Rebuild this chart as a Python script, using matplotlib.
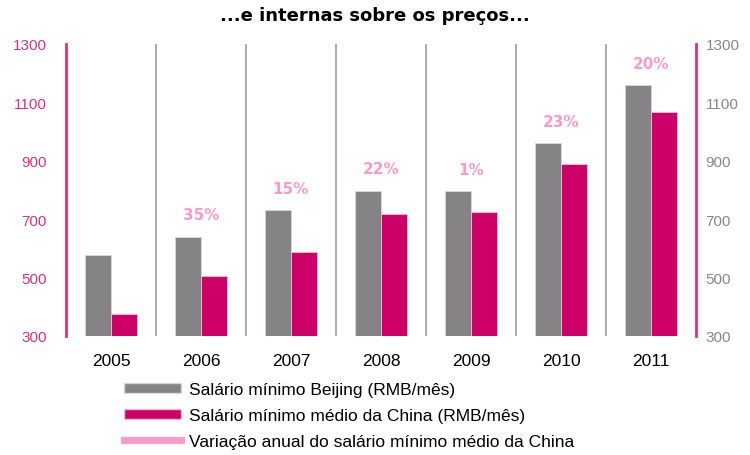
import numpy as np
import matplotlib.pyplot as plt
from matplotlib.patches import Patch
from matplotlib.lines import Line2D

anos = ["2005", "2006", "2007", "2008", "2009", "2010", "2011"]
beijing = [578, 640, 730, 797, 795, 960, 1158]
china = [375, 505, 587, 718, 724, 890, 1068]
variacao = ["", "35%", "15%", "22%", "1%", "23%", "20%"]

cinza = "#858385"
magenta = "#cc0066"
rosa_eixo = "#e0307f"
rosa_claro = "#ff99cc"

fig = plt.figure(figsize=(7.5, 4.56), dpi=100)
ax = fig.add_axes([66 / 750, 1 - 337 / 456, 630 / 750, 292 / 456])

x = np.arange(len(anos))
w = 0.29
ax.bar(x - w / 2, np.array(beijing) - 300, w, bottom=300, color=cinza,
       edgecolor="#d8d8d8", linewidth=0.6)
ax.bar(x + w / 2, np.array(china) - 300, w, bottom=300, color=magenta,
       edgecolor="#f0c0d8", linewidth=0.6)

for i, txt in enumerate(variacao):
    if txt:
        ax.annotate(txt, (x[i], beijing[i]), xytext=(0, 16), textcoords="offset points",
                    ha="center", va="center", color=rosa_claro, fontsize=11,
                    fontweight="bold", family="DejaVu Sans")

# linhas separadoras entre os anos
for s in x[:-1] + 0.5:
    ax.axvline(s, color="#aaaaaa", linewidth=1.4)

ax.set_xlim(-0.5, len(anos) - 0.5)
ax.set_ylim(300, 1300)
ax.set_yticks(range(300, 1301, 200))
ax.set_xticks(x)
ax.set_xticklabels(anos, fontsize=12.5, family="Liberation Sans")
ax.tick_params(axis="x", length=0, pad=12)
ax.tick_params(axis="y", length=0, labelcolor=rosa_eixo, labelsize=11, pad=14)
for lab in ax.get_yticklabels():
    lab.set_family("Liberation Sans")

ax2 = ax.twinx()
ax2.set_ylim(300, 1300)
ax2.set_yticks(range(300, 1301, 200))
ax2.tick_params(axis="y", length=0, labelcolor="#888888", labelsize=11, pad=7)
for lab in ax2.get_yticklabels():
    lab.set_family("Liberation Sans")

for a in (ax, ax2):
    for sp in ["top", "bottom"]:
        a.spines[sp].set_visible(False)
    a.spines["left"].set_color(rosa_eixo)
    a.spines["right"].set_color(rosa_eixo)
    a.spines["left"].set_linewidth(2)
    a.spines["right"].set_linewidth(2)
ax2.spines["left"].set_visible(False)
ax.spines["right"].set_visible(False)

fig.text(0.5, 1 - 16 / 456, "...e internas sobre os preços...", ha="center", va="center",
         fontsize=13, fontweight="bold", family="DejaVu Sans")

handles = [
    Patch(facecolor=cinza, edgecolor="#d8d8d8"),
    Patch(facecolor=magenta, edgecolor="#f0c0d8"),
    Line2D([0], [0], color=rosa_claro, linewidth=5),
]
labels = [
    "Salário mínimo Beijing (RMB/mês)",
    "Salário mínimo médio da China (RMB/mês)",
    "Variação anual do salário mínimo médio da China",
]
fig.legend(handles, labels, loc="upper left", bbox_to_anchor=(124 / 750, 1 - 383 / 456),
           frameon=False, prop={"family": "Liberation Sans", "size": 12.5},
           handlelength=3.3, handleheight=0.5, labelspacing=0.62, handletextpad=0.45,
           borderaxespad=0, borderpad=0)

fig.savefig("out.png", dpi=100)
